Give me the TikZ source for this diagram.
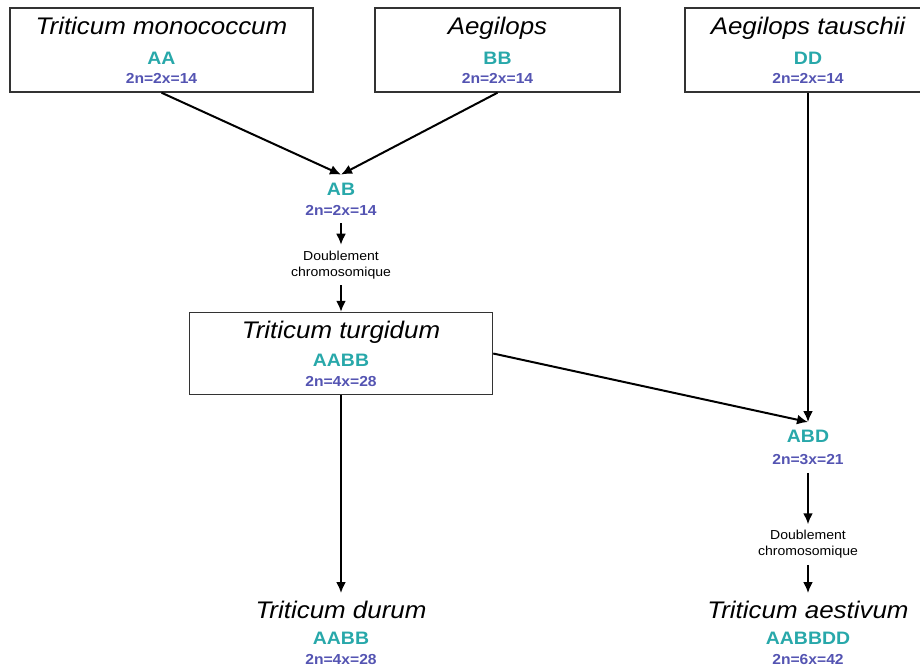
\documentclass[tikz,border=0pt]{standalone}
\usepackage{fontspec}
\setmainfont{Liberation Sans}[FakeStretch=1.08]
\usetikzlibrary{arrows,arrows.meta}
\definecolor{genomecol}{RGB}{40,168,170}
\definecolor{ploidcol}{RGB}{84,84,178}
\newcommand{\espece}[1]{{\fontsize{24}{24}\selectfont\itshape #1}}
\newcommand{\genome}[1]{{\fontsize{18}{18}\selectfont\bfseries\textcolor{genomecol}{#1}}}
\newcommand{\ploidie}[1]{{\fontsize{14.5}{14.5}\selectfont\bfseries\textcolor{ploidcol}{#1}}}
\tikzset{
  taxon/.style={
    % The shape:
    rectangle,minimum height=84,
    % The border:
    draw=black!80,line width=1.4pt,
    % The text:
    align=center,inner sep=2pt,
    font=\fontsize{14}{20}\selectfont}}
\tikzset{
  hybride/.style={
    align=center,inner sep=8pt,
    font=\fontsize{14}{20}\selectfont}}
\tikzset{
  etape/.style={
    align=center,inner sep=6pt,
    font=\fontsize{13}{16}\selectfont}}
\tikzset{
  fleche/.style={-{Latex[length=11pt,width=10pt]},line width=2pt}}

\begin{document}
\begin{tikzpicture}[x=1pt,y=-1pt]
	\useasboundingbox (0,0) rectangle (920,670);
	% Parents
	\node[taxon,minimum width=303] (mono) at (161.5,50)
		{\espece{Triticum monococcum}\\[10pt]\genome{AA}\\[-1pt]\ploidie{2n=2x=14}};
	\node[taxon,minimum width=245] (aegi) at (497.5,50)
		{\espece{Aegilops}\\[10pt]\genome{BB}\\[-1pt]\ploidie{2n=2x=14}};
	\node[taxon,minimum width=246] (taus) at (808,50)
		{\espece{Aegilops tauschii}\\[10pt]\genome{DD}\\[-1pt]\ploidie{2n=2x=14}};
	% First hybrid
	\node[hybride] (ab) at (341,199) {\genome{AB}\\\ploidie{2n=2x=14}};
	\node[etape] (dbl1) at (341,265) {Doublement\\chromosomique};
	\node[taxon,minimum width=303,minimum height=82] (turg) at (341,353.5)
		{\espece{Triticum turgidum}\\[8pt]\genome{AABB}\\\ploidie{2n=4x=28}};
	% Second hybrid
	\node[hybride] (abd) at (808,447.5) {\genome{ABD}\\[2pt]\ploidie{2n=3x=21}};
	\node[etape] (dbl2) at (808,544.5) {Doublement\\chromosomique};
	% Wheats
	\node[hybride] (durum) at (341,633)
		{\espece{Triticum durum}\\[6pt]\genome{AABB}\\\ploidie{2n=4x=28}};
	\node[hybride] (aest) at (808,633)
		{\espece{Triticum aestivum}\\[6pt]\genome{AABBDD}\\\ploidie{2n=6x=42}};
	% Arrows into ab
	\draw[fleche] (mono.south) -- (ab.north);
	\draw[fleche] (aegi.south) -- (ab.north);
	% Arrows out of ab
	\draw[fleche] (ab.south) -- (dbl1.north);
	\draw[fleche] (dbl1.south) -- (turg.north);
	% Arrows into abd
	\draw[fleche] (taus.south) -- (abd.north);
	\draw[fleche] (turg.east) -- (abd.north);
	% Arrows out of turg and abd
	\draw[fleche] (turg.south) -- (durum.north);
	\draw[fleche] (abd.south) -- (dbl2.north);
	\draw[fleche] (dbl2.south) -- (aest.north);
\end{tikzpicture}
\end{document}
